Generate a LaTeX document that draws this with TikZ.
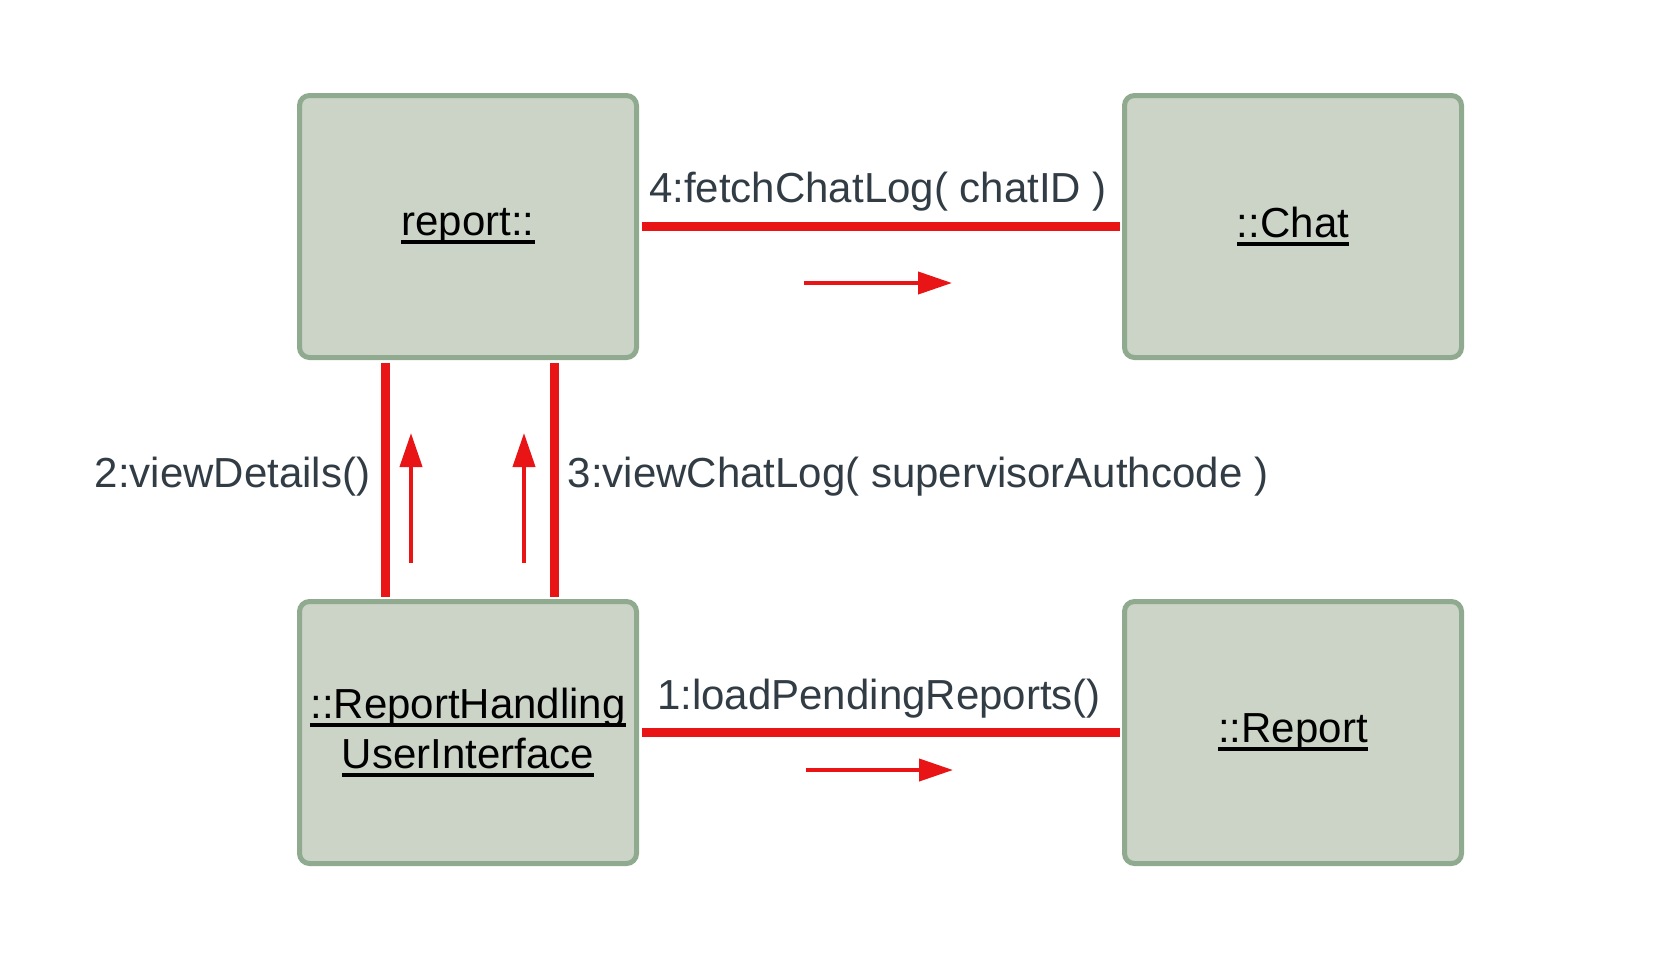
\documentclass[tikz,border=0pt]{standalone}
\usepackage{fontspec}
\setmainfont{Liberation Sans}
\usetikzlibrary{arrows.meta}
\definecolor{boxfill}{RGB}{203,212,199}
\definecolor{boxline}{RGB}{143,170,143}
\definecolor{msgred}{RGB}{232,20,22}
\definecolor{labelgray}{RGB}{49,60,69}
\newcommand\objname[1]{\setbox0\hbox{#1}\rlap{\rule[-8pt]{\wd0}{3.5pt}}\box0}
\begin{document}
\begin{tikzpicture}[x=1pt,y=-1pt,
  objbox/.style={draw=boxline, line width=5pt, fill=boxfill, rounded corners=10pt,
    minimum width=337pt, minimum height=262pt, inner sep=0pt, align=center,
    font=\fontsize{42}{50}\selectfont, text=black},
  link/.style={draw=msgred, line width=9pt, shorten <=2.5pt, shorten >=2.5pt},
  msgarrow/.style={draw=msgred, line width=4pt, -{Triangle[length=34pt,width=22pt]}},
  msgarrowv/.style={draw=msgred, line width=4pt, -{Triangle[length=34pt,width=22pt]}},
  msglabel/.style={text=labelgray, font=\fontsize{42}{50}\selectfont, inner sep=0pt, anchor=base}]
\useasboundingbox (0,0) rectangle (1680,962);
% objects
\node[objbox] (rep)  at (468,226.5)  {\objname{report::}};
\node[objbox] (chat) at (1293,226.5) {\objname{::Chat}};
\node[objbox] (rhui) at (468,732.5)  {\objname{::ReportHandling}\\\objname{UserInterface}};
\node[objbox] (rpt)  at (1293,732.5) {\objname{::Report}};
% links
\draw[link] (rep.east) -- (chat.west);
\draw[link] (rhui.east) -- (rpt.west);
\draw[link] ([xshift=-83pt]rep.south) -- ([xshift=-83pt]rhui.north);
\draw[link] ([xshift=86pt]rep.south) -- ([xshift=86pt]rhui.north);
% message labels
\node[msglabel] (m4) at (878,202) {4:fetchChatLog( chatID )};
\node[msglabel] (m1) at (879,709) {1:loadPendingReports()};
\node[msglabel] (m2) at (232.5,487) {2:viewDetails()};
\node[msglabel] (m3) at (918,487) {3:viewChatLog( supervisorAuthcode )};
% message arrows
\coordinate (a4s) at (804,283); \coordinate (a4e) at (952,283);
\coordinate (a1s) at (806,770); \coordinate (a1e) at (953,770);
\coordinate (a2s) at (411,563); \coordinate (a2e) at (411,433);
\coordinate (a3s) at (524,563); \coordinate (a3e) at (524,433);
\draw[msgarrow] (a4s) -- (a4e);
\draw[msgarrow] (a1s) -- (a1e);
\draw[msgarrowv] (a2s) -- (a2e);
\draw[msgarrowv] (a3s) -- (a3e);
\end{tikzpicture}
\end{document}
